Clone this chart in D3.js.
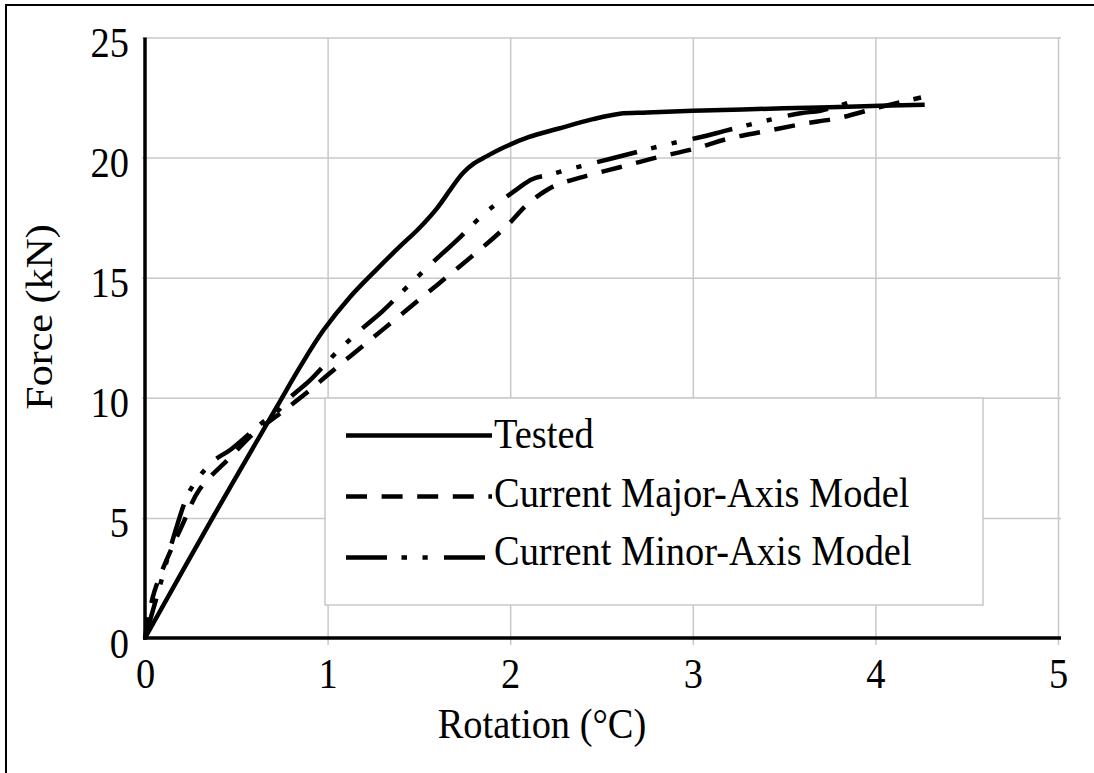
<!DOCTYPE html>
<html>
<head>
<meta charset="utf-8">
<script src="https://cdn.jsdelivr.net/npm/d3@7/dist/d3.min.js"></script>
<style>
  html, body { margin: 0; padding: 0; background: #fff; }
  svg { display: block; }
</style>
</head>
<body>
<script>
// Force-rotation response: test result vs. two numerical models
const xTicks = [0, 1, 2, 3, 4, 5];
const yTicks = [0, 5, 10, 15, 20, 25];
const xTitle = "Rotation (°C)";
const yTitle = "Force (kN)";
const seriesNames = ["Tested", "Current Major-Axis Model", "Current Minor-Axis Model"];

const testedRot   = [0, 0.37, 0.72, 0.85, 0.976, 1.123, 1.269, 1.396, 1.50, 1.60, 1.68, 1.74, 1.80, 1.87, 1.944, 2.1, 2.261, 2.453, 2.6, 2.75, 3.0, 3.5, 3.85, 4.27];
const testedForce = [0, 5.0, 9.6, 11.3, 12.8, 14.2, 15.35, 16.3, 17.05, 17.9, 18.75, 19.35, 19.75, 20.05, 20.35, 20.85, 21.2, 21.6, 21.83, 21.88, 21.95, 22.05, 22.12, 22.2];

const majorRot   = [0, 0.05, 0.21, 0.30, 0.47, 0.60, 0.74, 0.90, 1.0, 1.2, 1.4, 1.6, 1.8, 1.93, 2.0, 2.08, 2.16, 2.25, 2.4, 2.6, 2.8, 3.0, 3.2, 3.4, 3.6, 3.8, 4.0, 4.16, 4.25];
const majorForce = [0, 1.9, 4.8, 6.2, 7.55, 8.55, 9.35, 10.3, 10.95, 12.2, 13.45, 14.7, 15.95, 16.8, 17.3, 17.95, 18.45, 18.85, 19.2, 19.6, 20.0, 20.35, 20.8, 21.1, 21.4, 21.65, 22.05, 22.35, 22.5];

const minorRot   = [0, 0.09, 0.164, 0.237, 0.30, 0.38, 0.47, 0.64, 0.72, 0.80, 0.90, 1.05, 1.2, 1.3, 1.46, 1.62, 1.7, 1.87, 1.95, 2.04, 2.12, 2.22, 2.34, 2.55, 2.86, 3.07, 3.17, 3.38, 3.59, 3.7, 3.9];
const minorForce = [0, 2.4, 4.4, 6.0, 6.75, 7.4, 7.85, 8.95, 9.4, 10.05, 10.7, 11.9, 12.95, 13.6, 14.8, 15.95, 16.5, 17.75, 18.2, 18.7, 19.1, 19.3, 19.55, 19.95, 20.55, 20.9, 21.1, 21.5, 21.85, 21.95, 22.4];

const W = 1094, H = 773;
const FONT = "'Liberation Serif', 'Times New Roman', serif";
const FS = 42;       // font size
const SX = 0.915;    // horizontal squeeze of the lettering
const GRID = "#c8c8c8";

const x = d3.scaleLinear().domain([0, 5]).range([145, 1058]);
const y = d3.scaleLinear().domain([0, 25]).range([638, 37.5]);

const svg = d3.select("body").append("svg").attr("width", W).attr("height", H);
svg.append("rect").attr("width", W).attr("height", H).attr("fill", "#fff");

// outer frame (runs past the right and bottom edges)
svg.append("rect")
  .attr("x", 6).attr("y", 5).attr("width", W + 40).attr("height", H + 40)
  .attr("fill", "none").attr("stroke", "#000").attr("stroke-width", 2);

// vertical gridlines
const gxGrid = svg.append("g")
  .attr("transform", `translate(0,${y(25)})`)
  .call(d3.axisBottom(x).tickValues(xTicks.slice(1)).tickSize(y(0) - y(25) + 7).tickFormat(""));
gxGrid.select(".domain").remove();
gxGrid.selectAll("line").attr("stroke", GRID).attr("stroke-width", 1.5);

// horizontal gridlines
const gyGrid = svg.append("g")
  .attr("transform", `translate(${x(5) + 3},0)`)
  .call(d3.axisLeft(y).tickValues(yTicks.slice(1)).tickSize(x(5) + 3 - 142).tickFormat(""));
gyGrid.select(".domain").remove();
gyGrid.selectAll("line").attr("stroke", GRID).attr("stroke-width", 1.5);

// tick labels
const gxLab = svg.append("g")
  .attr("transform", `translate(0,${y(0)})`)
  .call(d3.axisBottom(x).tickValues(xTicks).tickSize(0).tickFormat(d3.format("d")));
gxLab.select(".domain").remove();
gxLab.selectAll("text")
  .attr("y", 50).attr("dy", null)
  .attr("transform", `scale(${SX},1)`)
  .attr("font-family", FONT).attr("font-size", FS).attr("fill", "#000");

const gyLab = svg.append("g")
  .attr("transform", `translate(${x(0)},0)`)
  .call(d3.axisLeft(y).tickValues(yTicks).tickSize(0).tickFormat(d3.format("d")));
gyLab.select(".domain").remove();
gyLab.selectAll("text")
  .attr("x", -16 / SX).attr("y", 19).attr("dy", null)
  .attr("transform", `scale(${SX},1)`)
  .attr("font-family", FONT).attr("font-size", FS).attr("fill", "#000");

// axis lines
svg.append("line")
  .attr("x1", x(0)).attr("x2", x(0)).attr("y1", y(25)).attr("y2", y(0) + 2)
  .attr("stroke", "#000").attr("stroke-width", 3.5);
svg.append("line")
  .attr("x1", x(0) - 2).attr("x2", x(5) + 3).attr("y1", y(0)).attr("y2", y(0))
  .attr("stroke", "#000").attr("stroke-width", 3.5);

// axis titles
svg.append("text")
  .attr("transform", `translate(542,738) scale(${SX},1)`)
  .attr("text-anchor", "middle")
  .attr("font-family", FONT).attr("font-size", FS).attr("fill", "#000")
  .text(xTitle);
svg.append("text")
  .attr("transform", `translate(52,317) scale(${SX},1) rotate(-90)`)
  .attr("text-anchor", "middle")
  .attr("font-family", FONT).attr("font-size", FS).attr("fill", "#000")
  .text(yTitle);

// series
const dashes = [null, "21 14.6", "41 14.5 5.5 15.5 5.2 16.3"];
const series = [
  d3.zip(testedRot, testedForce),
  d3.zip(majorRot, majorForce),
  d3.zip(minorRot, minorForce)
];
const line = d3.line().x(d => x(d[0])).y(d => y(d[1])).curve(d3.curveCatmullRom.alpha(0.5));

svg.append("g").selectAll("path")
  .data(series)
  .join("path")
  .attr("d", line)
  .attr("fill", "none")
  .attr("stroke", "#000")
  .attr("stroke-width", 4.5)
  .attr("stroke-linejoin", "round")
  .attr("stroke-dasharray", (d, i) => dashes[i]);

// legend
const lg = svg.append("g");
lg.append("rect")
  .attr("x", 325).attr("y", 398).attr("width", 983 - 325).attr("height", 605 - 398)
  .attr("fill", "#fff").attr("stroke", GRID).attr("stroke-width", 1.5);

seriesNames.forEach((name, i) => {
  const ly = 435.5 + i * 61;
  lg.append("line")
    .attr("x1", 346).attr("x2", 492).attr("y1", ly).attr("y2", ly)
    .attr("stroke", "#000").attr("stroke-width", 4.5)
    .attr("stroke-dasharray", dashes[i]);
  lg.append("text")
    .attr("transform", `translate(494,${448 + i * 58.5}) scale(${SX},1)`)
    .attr("font-family", FONT).attr("font-size", FS).attr("fill", "#000")
    .text(name);
});
</script>
</body>
</html>
